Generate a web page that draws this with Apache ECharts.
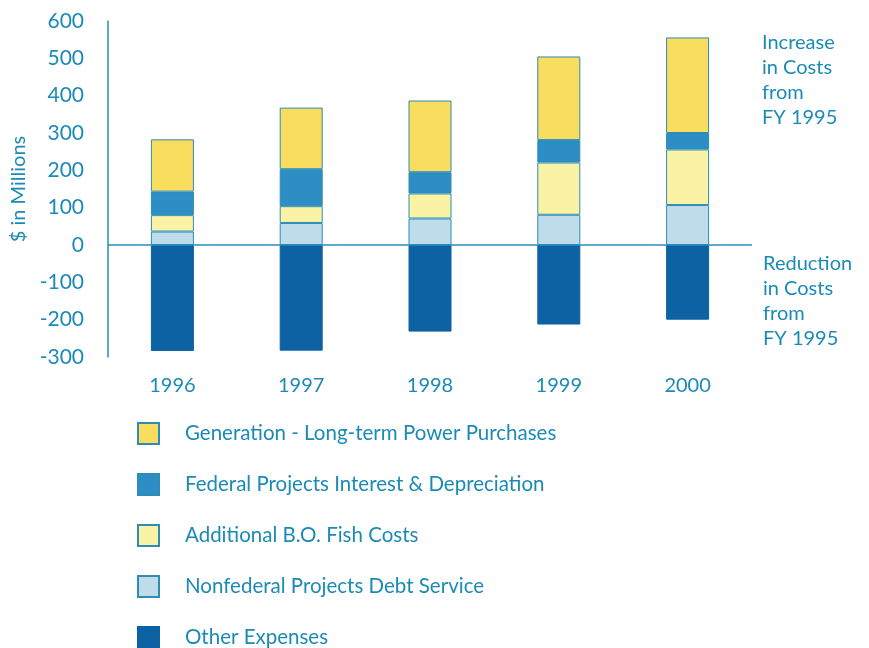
<!DOCTYPE html>
<html>
<head>
<meta charset="utf-8">
<script src="https://cdn.jsdelivr.net/npm/echarts@6/dist/echarts.min.js"></script>
<style>
  html, body { margin: 0; padding: 0; background: #ffffff; }
  #chart { width: 869px; height: 648px; }
</style>
</head>
<body>
<div id="chart"></div>
<script>
// Fiscal years shown on the category axis
const years = ['1996', '1997', '1998', '1999', '2000'];

// Cost changes relative to FY 1995, $ in millions
const generationPurchases = [140, 165, 192, 224, 256];
const federalInterest     = [63, 99, 57, 60, 44];
const fishCosts           = [44, 45, 67, 140, 149];
const nonfederalDebt      = [36, 59, 71, 81, 107];
const otherExpenses       = [-284, -283, -232, -213, -200];

// Y-axis ticks
const yMin = -300, yMax = 600, yStep = 100;

const TEXT = '#1B8BB6';
const FONT = 'Lato';

const chart = echarts.init(document.getElementById('chart'));

function stackBar(name, data, color, extra) {
  return Object.assign({
    name: name,
    type: 'bar',
    stack: 'costs',
    data: data,
    barWidth: 43,
    itemStyle: { color: color, borderColor: '#2E8CB5', borderWidth: 1 },
    emphasis: { disabled: true }
  }, extra || {});
}

chart.setOption({
  animation: false,
  backgroundColor: '#ffffff',
  textStyle: { fontFamily: FONT, color: TEXT },
  grid: { left: 108, right: 117, top: 21, bottom: 291 },
  legend: {
    orient: 'vertical',
    left: 137,
    top: 422,
    height: 260,
    padding: 0,
    itemWidth: 21,
    itemHeight: 21,
    itemGap: 28,
    icon: 'rect',
    selectedMode: false,
    textStyle: { fontFamily: FONT, fontSize: 20.5, color: TEXT, padding: [0, 0, 0, 21] },
    data: [
      'Generation - Long-term Power Purchases',
      'Federal Projects Interest & Depreciation',
      'Additional B.O. Fish Costs',
      'Nonfederal Projects Debt Service',
      'Other Expenses'
    ]
  },
  xAxis: {
    type: 'category',
    data: years,
    axisLine: { show: false, onZero: false },
    axisTick: { show: false },
    axisLabel: { color: TEXT, fontSize: 20, fontFamily: FONT, margin: 19 }
  },
  yAxis: {
    type: 'value',
    min: yMin,
    max: yMax,
    interval: yStep,
    name: '$ in Millions',
    nameLocation: 'middle',
    nameGap: 72,
    nameTextStyle: { color: TEXT, fontSize: 20, fontFamily: FONT },
    axisLine: { show: true, lineStyle: { color: '#2A8DB8', width: 1.5 } },
    axisTick: { show: false },
    splitLine: { show: false },
    axisLabel: { color: TEXT, fontSize: 21, fontFamily: FONT, margin: 24 }
  },
  series: [
    stackBar('Nonfederal Projects Debt Service', nonfederalDebt, '#BFDCEA'),
    stackBar('Additional B.O. Fish Costs', fishCosts, '#FAF2A4'),
    stackBar('Federal Projects Interest & Depreciation', federalInterest, '#2C8EC4'),
    stackBar('Generation - Long-term Power Purchases', generationPurchases, '#F8DD5E'),
    stackBar('Other Expenses', otherExpenses, '#0C62A3', {
      itemStyle: { color: '#0C62A3', borderColor: '#0C62A3', borderWidth: 1 },
      markLine: {
        silent: true,
        symbol: ['none', 'none'],
        label: { show: false },
        lineStyle: { color: '#2A8DB8', width: 1.5, type: 'solid' },
        data: [{ yAxis: 0 }]
      }
    })
  ],
  graphic: [
    {
      type: 'text', left: 762, top: 30,
      style: {
        text: 'Increase\nin Costs\nfrom\nFY 1995',
        fill: TEXT, font: '20px ' + FONT, lineHeight: 25
      }
    },
    {
      type: 'text', left: 763, top: 251,
      style: {
        text: 'Reduction\nin Costs\nfrom\nFY 1995',
        fill: TEXT, font: '20px ' + FONT, lineHeight: 25
      }
    }
  ]
});
</script>
</body>
</html>
